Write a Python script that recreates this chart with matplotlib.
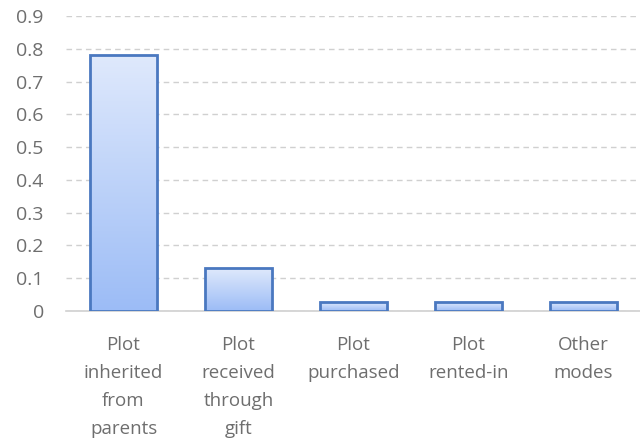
import numpy as np
import matplotlib
matplotlib.use("Agg")
import matplotlib.pyplot as plt
from matplotlib.colors import LinearSegmentedColormap

# values
categories = ["Plot\ninherited\nfrom\nparents", "Plot\nreceived\nthrough\ngift",
              "Plot\npurchased", "Plot\nrented-in", "Other\nmodes"]
shares = [0.78, 0.13, 0.027, 0.027, 0.027]
yticks = [0, 0.1, 0.2, 0.3, 0.4, 0.5, 0.6, 0.7, 0.8, 0.9]
ytick_labels = ["0", "0.1", "0.2", "0.3", "0.4", "0.5", "0.6", "0.7", "0.8", "0.9"]

plt.rcParams['font.family'] = ['Open Sans', 'DejaVu Sans']

fig = plt.figure(figsize=(6.4, 4.46), dpi=100)
ax = fig.add_axes([66 / 640, 1 - 311 / 446, 575 / 640, 295 / 446])

grad = LinearSegmentedColormap.from_list("g", ["#9cbcf6", "#dfe9fc"])
x = np.arange(len(categories))
bars = ax.bar(x, shares, width=0.59, facecolor="none", edgecolor="#4a78c0",
              linewidth=2, zorder=3)
for b in bars:
    x0, y0 = b.get_x(), b.get_y()
    w, h = b.get_width(), b.get_height()
    img = ax.imshow(np.linspace(0, 1, 256).reshape(-1, 1), cmap=grad, aspect="auto",
                    origin="lower", extent=[x0, x0 + w, y0, y0 + h], zorder=2)
    img.set_clip_path(b)

ax.set_xlim(-0.5, len(categories) - 0.5)
ax.set_ylim(0, 0.9)
ax.set_yticks(yticks)
ax.set_yticklabels(ytick_labels)
ax.set_xticks(x)
ax.set_xticklabels(categories, linespacing=1.72, va="top")
ax.tick_params(axis="both", length=0, colors="#6e6e6e")
ax.tick_params(axis="x", pad=18, labelsize=13.5)
ax.tick_params(axis="y", pad=16, labelsize=14)

ax.yaxis.grid(True, linestyle=(0, (4, 3)), color="#d0d0d0", linewidth=1)
ax.set_axisbelow(True)
for s in ["top", "right", "left"]:
    ax.spines[s].set_visible(False)
ax.spines["bottom"].set_color("#d0d0d0")
ax.spines["bottom"].set_linewidth(1.2)
ax.spines["bottom"].set_zorder(1)

fig.savefig("out.png", dpi=100)
